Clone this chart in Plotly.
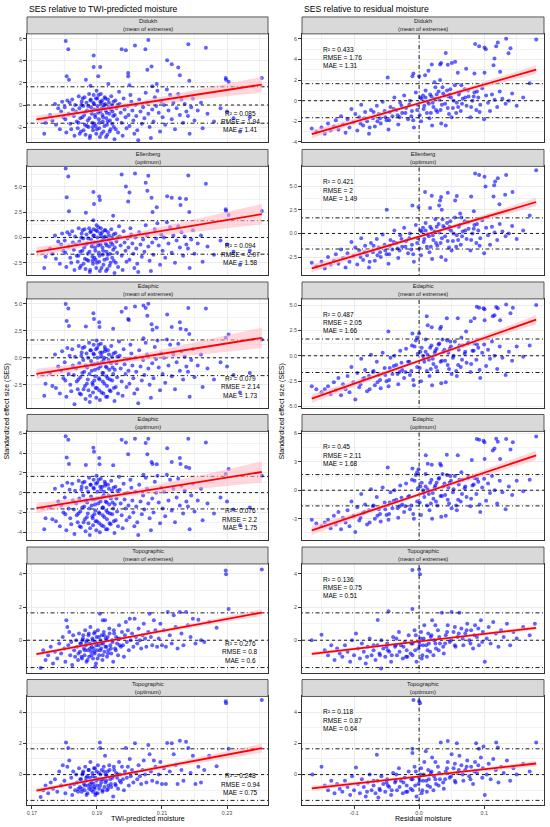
import numpy as np
import plotly.graph_objects as go

W, H = 550, 827

# ---------------- DATA ----------------
L1 = [(.1804,5.8),(.1812,5.06),(.1807,2.6),(.1814,2.3),(.1890,4.5),(.1890,3.45),(.1910,3.45),(.1904,2.6),(.1866,2.3),(.1976,5.06),(.1989,4.97),(.2017,5.4),(.2058,5.9),(.2049,5.06),(.2055,3.2),(.2068,3.5),(.1996,2.9),(.1996,2.6),(.2116,4.06),(.2130,3.7),(.2150,3.4),(.2155,2.7),(.2181,5.5),(.2184,2.2),(.2235,5.2),(.2296,2.45),(.2297,2.3),(.2305,2.1),(.2407,2.45),(.2084,1.9),(.2070,1.7),(.1935,1.9),(.1880,1.75),(.2000,1.8),
(.1742,-1.6),(.1738,-2.6),(.1756,-0.9),(.1763,-1.4),(.1771,0.1),(.1774,-1.8),(.1781,-0.3),(.1786,-2.2),(.1790,-0.6),(.1793,0.3),(.1797,-1.1),(.1801,-0.2),(.1803,-1.3),(.1806,-2.5),(.1809,0.4),(.1813,-0.8),(.1816,0.2),(.1818,-1.7),(.1821,-2.2),(.1824,0.5),(.1826,-0.4),(.1829,-1.0),(.1831,-2.8),(.1833,0.0),(.1836,-0.6),(.1838,-1.5),(.1841,-2.1),(.1844,0.8),(.1846,-0.3),(.1849,-1.2),(.1851,-2.4),(.1853,0.3),(.1856,0.6),(.1858,-0.1),(.1861,-0.9),(.1863,-1.8),(.1865,-2.7),(.1868,0.2),(.1870,-0.5),(.1872,-1.4),(.1874,-2.0),(.1876,1.0),(.1878,-3.0),(.1880,0.4),(.1882,-0.2),(.1884,-0.8),(.1886,-1.6),(.1888,-2.3),(.1890,0.9),(.1891,0.1),(.1893,-0.4),(.1895,-1.1),(.1896,-1.9),(.1898,-2.6),(.1899,1.3),(.1901,0.6),(.1902,-0.1),(.1904,-0.7),(.1906,-1.3),(.1907,-2.1),(.1909,-2.9),(.1910,0.3),(.1912,1.0),(.1913,0.2),(.1915,-0.3),(.1917,-0.9),(.1918,-1.5),(.1920,-2.4),(.1922,0.0),(.1924,0.7),(.1925,0.1),(.1927,-0.5),(.1929,-1.2),(.1931,-1.8),(.1932,-2.7),(.1934,0.5),(.1936,-0.2),(.1938,-0.8),(.1940,-1.4),(.1942,-2.2),(.1944,0.8),(.1946,0.0),(.1948,-0.6),(.1950,-1.0),(.1952,-2.0),(.1954,-3.1),(.1957,0.4),(.1960,-0.3),(.1962,-1.3),(.1965,-2.5),(.1968,1.2),(.1970,0.1),(.1973,-0.7),(.1976,-1.6),(.1979,-2.8),(.1982,0.6),(.1985,-0.4),(.1988,-1.1),(.1991,-2.1),(.1994,-0.1),(.1997,-0.9),(.2000,-1.9),(.2003,0.9),(.2006,0.3),(.2009,-0.5),(.2012,-1.4),(.2015,-2.6),(.2018,0.0),(.2021,-1.0),(.2024,-2.3),(.2027,-3.2),(.2030,0.5),(.2034,-0.6),(.2038,-1.7),(.2042,-0.2),(.2046,-1.2),(.2050,1.1),(.2054,0.2),(.2058,-0.8),(.2062,-2.0),(.2066,-3.0),(.2070,-0.4),(.2074,-1.5),(.2078,0.7),(.2082,-0.1),(.2086,1.3),(.2090,-0.7),(.2094,-2.4),(.2098,0.3),(.2102,-1.1),(.2106,0.0),(.2110,-1.8),(.2115,1.4),(.2120,-0.5),(.2125,0.9),(.2130,-1.3),(.2135,0.2),(.2140,-2.2),(.2145,-0.3),(.2150,1.0),(.2155,-0.9),(.2160,0.5),(.2165,-1.6),(.2170,0.1),(.2175,-0.6),(.2180,-1.0),(.2185,-2.6),(.2190,-0.2),(.2195,0.6),(.2200,-1.4),(.2210,-0.5),(.2220,0.2),(.2225,-2.1),(.2240,-0.8),(.2260,-1.5),(.2280,-0.3),(.2300,-0.6),(.2320,-1.2),(.2340,-2.4),(.2370,-1.1)]
L1_dense = [(.1843,-1.6),(.1847,-2.6),(.1852,0.0),(.1855,-1.1),(.1859,-2.3),(.1862,0.7),(.1866,-0.6),(.1869,-1.9),(.1873,-0.1),(.1877,-1.2),(.1879,-2.8),(.1881,0.5),(.1885,-0.5),(.1887,-2.0),(.1889,0.2),(.1892,-1.7),(.1894,-0.9),(.1897,0.6),(.1900,-2.2),(.1903,-0.4),(.1905,0.9),(.1908,-1.6),(.1911,-0.6),(.1914,-2.6),(.1916,0.4),(.1919,-1.1),(.1921,-0.2),(.1923,-1.9),(.1926,0.6),(.1928,-2.9),(.1930,-0.7),(.1933,-1.5),(.1937,0.2),(.1939,-2.4),(.1943,-0.4),(.1947,-1.7),(.1951,0.3),(.1955,-0.9),(.1958,-2.2),(.1963,0.0)]

L2 = [(.1804,6.8),(.1812,6.0),(.1807,3.97),(.1814,2.57),(.1889,4.47),(.1891,3.3),(.1907,4.03),(.1909,3.7),(.1866,2.43),(.1976,6.2),(.1989,5.03),(.2000,4.43),(.1996,3.53),(.2017,6.3),(.2058,6.07),(.2050,5.4),(.2055,4.6),(.2068,3.9),(.2071,2.5),(.2084,2.97),(.2116,4.07),(.2130,3.9),(.2155,3.87),(.2157,3.2),(.2174,3.8),(.2184,2.5),(.2181,6.1),(.2235,5.3),(.2296,2.77),(.2297,2.6),(.2305,2.2),(.2407,2.6),(.1950,2.13),(.1889,1.7),
(.1742,-1.9),(.1738,-3.0),(.1756,-1.1),(.1763,-1.6),(.1771,0.2),(.1774,-2.1),(.1781,-0.4),(.1786,-2.6),(.1790,-0.7),(.1793,0.4),(.1797,-1.3),(.1801,-0.3),(.1803,-1.5),(.1806,-2.9),(.1809,0.5),(.1813,-0.9),(.1816,0.3),(.1818,-2.0),(.1821,-2.5),(.1824,0.6),(.1826,-0.5),(.1829,-1.2),(.1831,-3.2),(.1833,0.1),(.1836,-0.7),(.1838,-1.8),(.1841,-2.4),(.1844,0.9),(.1846,-0.4),(.1849,-1.4),(.1851,-2.8),(.1853,0.4),(.1856,0.7),(.1858,-0.1),(.1861,-1.0),(.1863,-2.1),(.1865,-3.1),(.1868,0.3),(.1870,-0.6),(.1872,-1.6),(.1874,-2.3),(.1876,0.9),(.1878,-3.4),(.1880,0.5),(.1882,-0.2),(.1884,-0.9),(.1886,-1.9),(.1888,-2.6),(.1890,0.8),(.1891,0.2),(.1893,-0.5),(.1895,-1.3),(.1896,-2.2),(.1898,-3.0),(.1899,1.2),(.1901,0.6),(.1902,0.0),(.1904,-0.8),(.1906,-1.5),(.1907,-2.4),(.1909,-3.3),(.1910,0.4),(.1912,0.9),(.1913,0.2),(.1915,-0.3),(.1917,-1.0),(.1918,-1.7),(.1920,-2.7),(.1922,0.0),(.1924,0.7),(.1925,0.1),(.1927,-0.6),(.1929,-1.4),(.1931,-2.1),(.1932,-3.1),(.1934,0.5),(.1936,-0.2),(.1938,-0.9),(.1940,-1.6),(.1942,-2.5),(.1944,0.8),(.1946,0.0),(.1948,-0.7),(.1950,-1.2),(.1952,-2.3),(.1954,-3.5),(.1957,0.4),(.1960,-0.4),(.1962,-1.5),(.1965,-2.9),(.1968,1.1),(.1970,0.1),(.1973,-0.8),(.1976,-1.8),(.1979,-3.2),(.1982,0.6),(.1985,-0.5),(.1988,-1.3),(.1991,-2.4),(.1994,-0.1),(.1997,-1.0),(.2000,-2.2),(.2003,0.9),(.2006,0.3),(.2009,-0.6),(.2012,-1.6),(.2015,-3.0),(.2018,0.0),(.2021,-1.1),(.2024,-2.6),(.2027,-3.4),(.2030,0.5),(.2034,-0.7),(.2038,-1.9),(.2042,-0.2),(.2046,-1.4),(.2050,1.2),(.2054,0.2),(.2058,-0.9),(.2062,-2.3),(.2066,-3.3),(.2070,-0.5),(.2074,-1.7),(.2078,0.8),(.2082,-0.1),(.2086,1.4),(.2090,-0.8),(.2094,-2.7),(.2098,0.3),(.2102,-1.3),(.2106,0.0),(.2110,-2.0),(.2115,1.5),(.2120,-0.6),(.2125,1.0),(.2130,-1.5),(.2135,0.2),(.2140,-2.5),(.2145,-0.3),(.2150,1.1),(.2155,-1.0),(.2160,0.5),(.2165,-1.8),(.2170,0.1),(.2175,-0.7),(.2180,-1.1),(.2185,-3.0),(.2190,-0.2),(.2195,0.7),(.2200,-1.6),(.2210,-0.6),(.2220,0.2),(.2225,-2.4),(.2240,-0.9),(.2260,-1.7),(.2280,-0.3),(.2300,-0.7),(.2320,-1.4),(.2340,-2.7),(.2370,-1.3)]
L2_dense = [(.1843,-1.8),(.1847,-3.0),(.1852,0.0),(.1855,-1.3),(.1859,-2.6),(.1862,0.8),(.1866,-0.7),(.1869,-2.2),(.1873,-0.1),(.1877,-1.4),(.1879,-3.2),(.1881,0.6),(.1885,-0.6),(.1887,-2.3),(.1889,0.2),(.1892,-2.0),(.1894,-1.0),(.1897,0.7),(.1900,-2.5),(.1903,-0.5),(.1905,1.0),(.1908,-1.8),(.1911,-0.7),(.1914,-3.0),(.1916,0.5),(.1919,-1.3),(.1921,-0.2),(.1923,-2.2),(.1926,0.7),(.1928,-3.3),(.1930,-0.8),(.1933,-1.7),(.1937,0.2),(.1939,-2.8),(.1943,-0.5),(.1947,-2.0),(.1951,0.3),(.1955,-1.0),(.1958,-2.5),(.1963,0.0)]

L3 = [(.1804,4.97),(.1812,4.57),(.1807,3.4),(.1814,2.94),(.1889,4.12),(.1891,3.6),(.1907,3.3),(.1908,2.85),(.1866,2.9),(.1950,2.7),(.1976,4.27),(.1989,4.6),(.1996,3.6),(.1998,3.5),(.2017,4.76),(.2043,4.85),(.2058,5.0),(.2050,4.6),(.2055,3.9),(.2068,3.1),(.2071,2.6),(.2084,2.8),(.2116,4.0),(.2130,2.85),(.2155,3.3),(.2157,2.7),(.2174,2.6),(.2184,2.2),(.2181,4.6),(.2235,4.57),(.2296,1.85),(.2305,2.15),(.2407,1.7),(.2043,1.8),
(.1742,-2.4),(.1738,-3.5),(.1756,-1.4),(.1763,-2.6),(.1771,0.3),(.1774,-2.8),(.1781,-0.8),(.1786,-3.3),(.1790,-1.2),(.1793,0.6),(.1797,-1.9),(.1801,-0.4),(.1803,-2.1),(.1806,-3.6),(.1809,0.9),(.1813,-1.5),(.1816,0.2),(.1818,-2.5),(.1821,-3.1),(.1824,0.8),(.1826,-0.7),(.1829,-1.6),(.1831,-4.3),(.1833,0.1),(.1836,-1.0),(.1838,-2.2),(.1841,-2.9),(.1844,1.1),(.1846,-0.5),(.1849,-1.8),(.1851,-3.4),(.1853,0.5),(.1856,0.9),(.1858,-0.2),(.1861,-1.3),(.1863,-2.6),(.1865,-3.8),(.1868,0.4),(.1870,-0.9),(.1872,-2.0),(.1874,-3.0),(.1876,1.4),(.1878,-4.1),(.1880,0.7),(.1882,-0.3),(.1884,-1.2),(.1886,-2.3),(.1888,-3.2),(.1890,1.2),(.1891,0.3),(.1893,-0.6),(.1895,-1.7),(.1896,-2.8),(.1898,-3.7),(.1899,1.6),(.1901,0.9),(.1902,0.0),(.1904,-1.0),(.1906,-1.9),(.1907,-3.0),(.1909,-3.9),(.1910,0.5),(.1912,1.3),(.1913,0.2),(.1915,-0.4),(.1917,-1.4),(.1918,-2.2),(.1920,-3.3),(.1922,0.0),(.1924,1.0),(.1925,0.6),(.1927,-0.8),(.1929,-1.7),(.1931,-2.6),(.1932,-3.6),(.1934,0.7),(.1936,-0.2),(.1938,-1.1),(.1940,-2.0),(.1942,-3.1),(.1944,1.1),(.1946,0.1),(.1948,-0.9),(.1950,-1.5),(.1952,-2.8),(.1954,-4.0),(.1957,0.5),(.1960,-0.5),(.1962,-1.8),(.1965,-3.3),(.1968,1.5),(.1970,0.2),(.1973,-1.0),(.1976,-2.2),(.1979,-3.5),(.1982,0.8),(.1985,-0.6),(.1988,-1.5),(.1991,-2.7),(.1994,-0.1),(.1997,-1.2),(.2000,-2.4),(.2003,1.2),(.2006,0.4),(.2009,-0.7),(.2012,-1.9),(.2015,-3.3),(.2018,0.0),(.2021,-1.3),(.2024,-2.9),(.2027,-4.2),(.2030,0.7),(.2034,-0.8),(.2038,-2.1),(.2042,-0.2),(.2046,-1.6),(.2050,1.4),(.2054,0.3),(.2058,-1.0),(.2062,-2.5),(.2066,-3.7),(.2070,-0.5),(.2074,-1.9),(.2078,1.0),(.2082,-0.1),(.2086,1.6),(.2090,-0.9),(.2094,-3.0),(.2098,0.4),(.2102,-1.5),(.2106,0.0),(.2110,-2.3),(.2115,1.7),(.2120,-0.7),(.2125,1.2),(.2130,-1.7),(.2135,0.3),(.2140,-2.9),(.2145,-0.4),(.2150,1.3),(.2155,-1.2),(.2160,0.6),(.2165,-2.0),(.2170,0.1),(.2175,-0.8),(.2180,-1.3),(.2185,-3.6),(.2190,-0.2),(.2195,0.8),(.2200,-1.8),(.2210,-0.7),(.2220,0.3),(.2225,-2.7),(.2240,-1.0),(.2260,-2.0),(.2280,-0.4),(.2300,-0.8),(.2320,-1.6),(.2340,-3.2),(.2370,-1.4)]
L3_dense = [(.1843,-2.0),(.1847,-3.3),(.1852,0.2),(.1855,-1.4),(.1859,-2.9),(.1862,1.0),(.1866,-0.7),(.1869,-2.4),(.1873,0.0),(.1877,-1.5),(.1879,-3.5),(.1881,0.7),(.1885,-0.6),(.1887,-2.5),(.1889,0.4),(.1892,-2.1),(.1894,-1.1),(.1897,0.8),(.1900,-2.8),(.1903,-0.5),(.1905,1.2),(.1908,-2.0),(.1911,-0.8),(.1914,-3.2),(.1916,0.5),(.1919,-1.4),(.1921,-0.2),(.1923,-2.4),(.1926,0.8),(.1928,-3.6),(.1930,-0.9),(.1933,-1.9),(.1937,0.3),(.1939,-3.0),(.1943,-0.5),(.1947,-2.1),(.1951,0.4),(.1955,-1.1),(.1958,-2.7),(.1963,0.1)]

L4 = [(.1804,5.7),(.1812,5.36),(.1807,3.56),(.1814,2.9),(.1889,4.54),(.1891,4.15),(.1907,3.5),(.1908,2.87),(.1866,2.8),(.1950,2.77),(.1976,5.36),(.1989,5.07),(.1996,3.9),(.2017,5.46),(.2050,5.04),(.2058,5.46),(.2055,3.9),(.2068,3.1),(.2071,2.9),(.2084,2.87),(.2116,4.5),(.2130,3.1),(.2155,3.5),(.2157,2.9),(.2174,2.6),(.2184,2.5),(.2181,5.46),(.2235,5.07),(.2296,1.9),(.2305,2.4),(.2407,1.7),(.2043,1.8),
(.1742,-2.6),(.1738,-3.7),(.1756,-1.5),(.1763,-2.7),(.1771,0.4),(.1774,-2.9),(.1781,-0.9),(.1786,-3.4),(.1790,-1.3),(.1793,0.7),(.1797,-2.0),(.1801,-0.5),(.1803,-2.2),(.1806,-3.8),(.1809,1.0),(.1813,-1.6),(.1816,0.3),(.1818,-2.6),(.1821,-3.2),(.1824,0.9),(.1826,-0.8),(.1829,-1.7),(.1831,-4.2),(.1833,0.2),(.1836,-1.1),(.1838,-2.3),(.1841,-3.0),(.1844,1.2),(.1846,-0.6),(.1849,-1.9),(.1851,-3.5),(.1853,0.6),(.1856,1.0),(.1858,-0.3),(.1861,-1.4),(.1863,-2.7),(.1865,-3.9),(.1868,0.5),(.1870,-1.0),(.1872,-2.1),(.1874,-3.1),(.1876,1.5),(.1878,-4.3),(.1880,0.8),(.1882,-0.4),(.1884,-1.3),(.1886,-2.4),(.1888,-3.3),(.1890,1.3),(.1891,0.4),(.1893,-0.7),(.1895,-1.8),(.1896,-2.9),(.1898,-3.8),(.1899,1.7),(.1901,1.0),(.1902,0.1),(.1904,-1.1),(.1906,-2.0),(.1907,-3.1),(.1909,-4.0),(.1910,0.6),(.1912,1.4),(.1913,0.3),(.1915,-0.5),(.1917,-1.5),(.1918,-2.3),(.1920,-3.4),(.1922,0.1),(.1924,1.1),(.1925,0.7),(.1927,-0.9),(.1929,-1.8),(.1931,-2.7),(.1932,-3.7),(.1934,0.8),(.1936,-0.3),(.1938,-1.2),(.1940,-2.1),(.1942,-3.2),(.1944,1.2),(.1946,0.2),(.1948,-1.0),(.1950,-1.6),(.1952,-2.9),(.1954,-4.1),(.1957,0.6),(.1960,-0.6),(.1962,-1.9),(.1965,-3.4),(.1968,1.6),(.1970,0.3),(.1973,-1.1),(.1976,-2.3),(.1979,-3.6),(.1982,0.9),(.1985,-0.7),(.1988,-1.6),(.1991,-2.8),(.1994,0.0),(.1997,-1.3),(.2000,-2.5),(.2003,1.3),(.2006,0.5),(.2009,-0.8),(.2012,-2.0),(.2015,-3.4),(.2018,0.1),(.2021,-1.4),(.2024,-3.0),(.2027,-4.3),(.2030,0.8),(.2034,-0.9),(.2038,-2.2),(.2042,-0.3),(.2046,-1.7),(.2050,1.5),(.2054,0.4),(.2058,-1.1),(.2062,-2.6),(.2066,-3.8),(.2070,-0.6),(.2074,-2.0),(.2078,1.1),(.2082,0.0),(.2086,1.7),(.2090,-1.0),(.2094,-3.1),(.2098,0.5),(.2102,-1.6),(.2106,0.1),(.2110,-2.4),(.2115,1.8),(.2120,-0.8),(.2125,1.3),(.2130,-1.8),(.2135,0.4),(.2140,-3.0),(.2145,-0.5),(.2150,1.4),(.2155,-1.3),(.2160,0.7),(.2165,-2.1),(.2170,0.2),(.2175,-0.9),(.2180,-1.4),(.2185,-3.7),(.2190,-0.3),(.2195,0.9),(.2200,-1.9),(.2210,-0.8),(.2220,0.4),(.2225,-2.8),(.2240,-1.1),(.2260,-2.1),(.2280,-0.5),(.2300,-0.9),(.2320,-1.7),(.2340,-3.3),(.2370,-1.5)]
L4_dense = [(.1843,-2.1),(.1847,-3.4),(.1852,0.3),(.1855,-1.5),(.1859,-3.0),(.1862,1.1),(.1866,-0.8),(.1869,-2.5),(.1873,0.1),(.1877,-1.6),(.1879,-3.6),(.1881,0.8),(.1885,-0.7),(.1887,-2.6),(.1889,0.5),(.1892,-2.2),(.1894,-1.2),(.1897,0.9),(.1900,-2.9),(.1903,-0.6),(.1905,1.3),(.1908,-2.1),(.1911,-0.9),(.1914,-3.3),(.1916,0.6),(.1919,-1.5),(.1921,-0.3),(.1923,-2.5),(.1926,0.9),(.1928,-3.7),(.1930,-1.0),(.1933,-2.0),(.1937,0.4),(.1939,-3.1),(.1943,-0.6),(.1947,-2.2),(.1951,0.5),(.1955,-1.2),(.1958,-2.8),(.1963,0.2)]

L5 = [(.1727,-1.67),(.1735,-0.6),(.1742,-1.2),(.1750,-0.9),(.1758,-0.4),(.1765,-1.4),(.1771,-0.7),(.1778,-1.1),(.1784,-0.2),(.1790,-0.8),(.1795,0.2),(.1800,-0.5),(.1803,-1.3),(.1806,1.2),(.1809,0.8),(.1812,-0.3),(.1815,0.5),(.1818,-0.9),(.1821,-0.1),(.1824,-1.5),(.1827,0.3),(.1830,-0.6),(.1833,-1.0),(.1836,0.0),(.1839,-0.4),(.1842,-1.2),(.1845,0.4),(.1848,-0.7),(.1851,-0.2),(.1854,-1.1),(.1857,0.1),(.1860,-0.5),(.1862,-0.9),(.1864,0.6),(.1866,-0.3),(.1868,-1.3),(.1870,0.0),(.1872,-0.6),(.1874,0.3),(.1876,-1.0),(.1878,-0.2),(.1880,0.8),(.1882,-0.7),(.1884,-0.4),(.1886,0.1),(.1888,-1.1),(.1890,-0.5),(.1891,0.4),(.1893,-0.8),(.1895,-0.1),(.1897,-1.4),(.1899,0.2),(.1901,-0.6),(.1903,0.6),(.1905,-0.3),(.1907,-0.9),(.1909,1.6),(.1911,0.0),(.1913,-0.5),(.1915,0.3),(.1917,-1.2),(.1919,-0.2),(.1921,0.5),(.1923,-0.7),(.1925,1.2),(.1927,0.1),(.1929,-0.4),(.1931,-1.0),(.1933,0.2),(.1935,-0.6),(.1938,0.7),(.1941,-0.3),(.1944,-0.8),(.1947,0.0),(.1950,-1.3),(.1953,0.4),(.1956,-0.5),(.1959,0.2),(.1962,-0.2),(.1965,-0.9),(.1968,0.9),(.1971,0.1),(.1974,-0.4),(.1977,0.5),(.1980,-0.3),(.1983,-1.0),(.1986,0.3),(.1989,1.1),(.1992,-0.1),(.1995,0.6),(.1998,-0.6),(.2001,1.3),(.2004,0.0),(.2008,0.4),(.2012,-0.4),(.2016,1.3),(.2020,0.2),(.2024,-0.2),(.2028,0.7),(.2032,0.0),(.2036,-0.5),(.2040,0.3),(.2044,1.0),(.2048,0.1),(.2052,-0.4),(.2058,0.5),(.2062,1.6),(.2066,0.2),(.2070,-0.3),(.2075,1.2),(.2080,0.6),(.2085,-0.4),(.2090,0.1),(.2095,1.0),(.2100,-0.3),(.2106,0.6),(.2112,-0.4),(.2118,1.7),(.2124,0.3),(.2130,-0.2),(.2136,1.5),(.2142,0.8),(.2148,-0.5),(.2155,1.7),(.2160,0.4),(.2166,-0.3),(.2174,1.7),(.2180,0.9),(.2188,0.2),(.2195,1.3),(.2203,-0.2),(.2212,1.24),(.2220,0.0),(.2230,-0.1),(.2245,1.1),(.2268,0.75),(.2296,4.2),(.2297,3.98),(.2305,1.88),(.2407,4.27),(.1855,0.0),(.1895,-1.6),(.1918,1.2)]
L5_dense = [(.1843,-0.8),(.1849,-0.2),(.1853,-1.0),(.1858,0.3),(.1863,-0.6),(.1867,-0.1),(.1871,-1.2),(.1875,0.4),(.1879,-0.5),(.1883,-0.9),(.1887,0.0),(.1892,-0.7),(.1894,0.5),(.1898,-0.3),(.1902,-1.1),(.1906,0.2),(.1910,-0.6),(.1914,-0.2),(.1918,-0.9),(.1922,0.3),(.1926,-0.4),(.1930,0.0),(.1934,-0.8),(.1939,0.4),(.1943,-0.5),(.1948,-0.1),(.1952,0.6),(.1958,-0.6),(.1964,0.1),(.1970,-0.3)]

L6 = [(.1727,-1.44),(.1735,-1.0),(.1742,-0.7),(.1750,-1.2),(.1758,-0.5),(.1765,-0.9),(.1771,-0.3),(.1778,-1.1),(.1784,0.2),(.1790,-0.7),(.1795,0.6),(.1800,-0.4),(.1803,-1.2),(.1805,2.06),(.1812,1.7),(.1809,0.5),(.1815,0.9),(.1818,-0.8),(.1821,-0.2),(.1824,-1.3),(.1827,0.2),(.1830,-0.6),(.1833,-1.0),(.1836,0.0),(.1839,-0.5),(.1842,-1.1),(.1845,0.4),(.1848,-0.8),(.1851,-0.3),(.1854,-0.9),(.1857,0.1),(.1860,-0.6),(.1862,-1.0),(.1864,0.5),(.1866,-0.4),(.1868,-1.3),(.1870,-0.1),(.1872,-0.7),(.1874,0.3),(.1876,-0.9),(.1878,-0.2),(.1880,0.8),(.1882,-0.8),(.1884,-0.5),(.1886,0.1),(.1888,-1.1),(.1890,-0.6),(.1891,0.4),(.1893,-0.9),(.1895,-0.2),(.1897,-1.2),(.1899,0.2),(.1901,-0.7),(.1903,0.6),(.1905,-0.3),(.1907,-0.9),(.1909,2.06),(.1910,1.7),(.1911,0.0),(.1913,-0.5),(.1915,0.3),(.1917,-1.1),(.1919,-0.3),(.1921,0.5),(.1923,-0.8),(.1925,1.2),(.1927,0.0),(.1929,-0.4),(.1931,-1.0),(.1933,0.2),(.1935,-0.7),(.1938,0.6),(.1941,-0.3),(.1944,-0.8),(.1947,-0.1),(.1950,-1.4),(.1953,0.3),(.1956,-0.6),(.1959,0.1),(.1962,-0.2),(.1965,-0.9),(.1968,0.8),(.1971,0.0),(.1974,-0.5),(.1977,0.5),(.1980,-0.3),(.1983,-1.0),(.1986,0.2),(.1989,1.7),(.1992,-0.2),(.1995,0.5),(.1998,-0.7),(.2001,1.0),(.2004,-0.1),(.2008,0.3),(.2012,-0.5),(.2017,2.0),(.2020,0.1),(.2024,-0.3),(.2028,0.6),(.2032,-0.1),(.2036,-0.6),(.2040,0.3),(.2044,0.9),(.2048,0.0),(.2052,-0.5),(.2058,1.9),(.2062,1.3),(.2066,0.2),(.2070,-0.4),(.2075,0.9),(.2080,0.5),(.2085,-0.5),(.2090,0.0),(.2095,0.8),(.2100,-0.6),(.2106,0.4),(.2112,-0.6),(.2116,2.03),(.2124,0.2),(.2130,2.0),(.2136,1.3),(.2142,0.6),(.2148,-0.6),(.2155,2.16),(.2160,0.3),(.2166,-0.4),(.2174,2.1),(.2181,1.7),(.2188,0.1),(.2195,1.2),(.2203,-0.6),(.2212,0.5),(.2220,-0.5),(.2230,0.3),(.2245,1.2),(.2268,0.54),(.2296,4.7),(.2297,4.56),(.2305,1.65),(.2407,4.77),(.1855,0.0),(.1895,-1.3)]
L6_dense = [(.1843,-0.9),(.1849,-0.3),(.1853,-1.1),(.1858,0.2),(.1863,-0.7),(.1867,-0.2),(.1871,-1.2),(.1875,0.3),(.1879,-0.6),(.1883,-1.0),(.1887,-0.1),(.1892,-0.8),(.1894,0.4),(.1898,-0.4),(.1902,-1.2),(.1906,0.1),(.1910,-0.7),(.1914,-0.3),(.1918,-1.0),(.1922,0.2),(.1926,-0.5),(.1930,-0.1),(.1934,-0.9),(.1939,0.3),(.1943,-0.6),(.1948,-0.2),(.1952,0.5),(.1958,-0.7),(.1964,0.0),(.1970,-0.4)]

R1 = [(.0862,5.5),(.0923,5.27),(.1005,5.17),(.1026,5.0),(.1185,5.27),(.1210,5.65),(.1338,6.0),(.1405,5.08),(.1374,4.6),(.1800,5.94),(.1159,4.1),(.1144,3.43),(.1246,2.8),(.1005,2.7),(.0851,2.63),(.0723,3.1),(.0595,2.7),(.0554,3.78),(.0503,3.65),(.0441,3.49),(.0338,3.65),(.0323,3.52),(.0195,3.52),(.0410,4.63),(.0144,2.9),(.0092,2.48),(-.0087,2.63),(-.0103,2.38),(.0000,2.38),(-.0482,2.25),(.0323,2.0),(.0236,1.8),
(-.165,-2.7),(-.158,-3.0),(-.150,-2.6),(-.145,-3.2),(-.140,-2.2),(-.136,-2.9),(-.131,-2.5),(-.128,-1.9),(-.124,-2.8),(-.120,-1.5),(-.117,-2.3),(-.113,-3.1),(-.110,-1.8),(-.107,-2.6),(-.104,-0.8),(-.101,-2.1),(-.098,-1.3),(-.095,-2.9),(-.092,-1.6),(-.089,-0.4),(-.086,-2.4),(-.083,-1.1),(-.080,-2.0),(-.077,-3.2),(-.074,-0.9),(-.071,-1.7),(-.068,-2.5),(-.065,-0.5),(-.062,-1.3),(-.059,-2.2),(-.056,-0.1),(-.053,-1.0),(-.050,-1.9),(-.047,-2.8),(-.044,-0.6),(-.041,-1.5),(-.038,0.3),(-.035,-0.9),(-.032,-2.3),(-.029,-0.2),(-.026,-1.2),(-.023,0.5),(-.020,-0.7),(-.017,-1.8),(-.014,0.0),(-.011,-1.0),(-.008,-2.6),(-.005,0.8),(-.002,-0.4),(.001,-1.4),(.004,0.2),(.007,-0.8),(.010,1.0),(.013,-0.1),(.016,-1.7),(.019,0.4),(.022,-0.6),(.025,1.3),(.028,-1.1),(.031,0.1),(.034,-2.2),(.037,0.7),(.040,-0.3),(.043,1.0),(.046,-1.3),(.049,0.3),(.052,-0.7),(.055,1.5),(.058,-0.2),(.061,0.6),(.064,-1.0),(.067,0.2),(.070,1.1),(.073,-0.5),(.076,0.4),(.079,-1.6),(.082,0.0),(.085,0.8),(.088,-0.9),(.091,0.3),(.094,-0.4),(.097,1.2),(.100,-1.8),(.103,0.5),(.106,-0.2),(.109,-1.0),(.112,0.6),(.116,0.1),(.120,-0.6),(.124,0.9),(.128,0.2),(.133,-0.3),(.138,0.0),(.143,0.7),(.150,-0.5),(.160,0.3),(.170,1.7),(-.012,-1.5),(.003,-2.0),(.006,0.5),(.018,-1.2),(.027,0.6),(.033,-0.9),(.045,0.4),(.050,-1.6),(.060,-0.6),(-.030,-1.6),(-.045,-1.1),(-.060,-1.7),(.015,-0.3),(.020,-2.4),(.041,-2.4)]
R1_dense = [(-.052,-1.6),(-.046,-1.9),(-.039,-0.8),(-.033,-1.4),(-.027,-0.5),(-.021,-1.2),(-.015,-0.4),(-.009,-1.9),(-.003,-0.9),(.002,0.3),(.008,-0.5),(.012,-1.2),(.017,0.6),(.021,-0.2),(.026,-0.9),(.030,0.9),(.035,-0.4),(.039,0.5),(.044,-0.7),(.048,1.1),(.053,0.0),(.057,-1.2),(.062,0.8),(.066,-0.3),(.071,0.3),(.075,1.0),(.080,-0.6),(.084,0.4),(.089,0.9),(.093,-1.1),(-.064,-2.0),(-.070,-1.1),(-.076,-2.6),(-.084,-1.7),(-.090,-2.2),(.010,0.3),(.024,0.2),(.036,1.3),(.047,0.6),(.065,1.5)]

R2 = [(.0862,6.35),(.0923,6.2),(.1005,6.0),(.1210,5.85),(.1338,6.2),(.1800,6.7),(.1169,5.5),(.1154,5.1),(.1021,4.96),(.1144,3.9),(.1323,4.1),(.1436,4.4),(.0800,3.9),(.1236,3.1),(.0841,2.34),(.0631,2.1),(.0580,3.96),(.0554,3.5),(.0441,4.3),(.0338,3.85),(.0323,3.5),(.0195,4.0),(.0092,4.4),(.0169,2.7),(-.0103,2.97),(-.0010,2.8),(-.0497,2.5),(.0308,2.97),(.0349,2.5),
(-.165,-3.1),(-.158,-3.5),(-.150,-3.0),(-.145,-3.7),(-.140,-2.5),(-.136,-3.3),(-.131,-2.9),(-.128,-2.2),(-.124,-3.2),(-.120,-1.7),(-.117,-2.6),(-.113,-3.6),(-.110,-2.1),(-.107,-3.0),(-.104,-0.9),(-.101,-2.4),(-.098,-1.5),(-.095,-3.3),(-.092,-1.8),(-.089,-0.5),(-.086,-2.8),(-.083,-1.3),(-.080,-2.3),(-.077,-3.6),(-.074,-1.0),(-.071,-2.0),(-.068,-2.9),(-.065,-0.6),(-.062,-1.5),(-.059,-2.5),(-.056,-0.1),(-.053,-1.2),(-.050,-2.2),(-.047,-3.2),(-.044,-0.7),(-.041,-1.7),(-.038,0.3),(-.035,-1.0),(-.032,-2.6),(-.029,-0.2),(-.026,-1.4),(-.023,0.6),(-.020,-0.8),(-.017,-2.1),(-.014,0.0),(-.011,-1.2),(-.008,-3.0),(-.005,0.9),(-.002,-0.5),(.001,-1.6),(.004,0.2),(.007,-0.9),(.010,1.1),(.013,-0.1),(.016,-2.0),(.019,0.5),(.022,-0.7),(.025,1.5),(.028,-1.3),(.031,0.1),(.034,-2.5),(.037,0.8),(.040,-0.3),(.043,1.1),(.046,-1.5),(.049,0.3),(.052,-0.8),(.055,1.7),(.058,-0.2),(.061,0.7),(.064,-1.2),(.067,0.2),(.070,1.3),(.073,-0.6),(.076,0.5),(.079,-1.8),(.082,0.0),(.085,0.9),(.088,-1.0),(.091,0.3),(.094,-0.5),(.097,1.4),(.100,-2.1),(.103,0.6),(.106,-0.2),(.109,-1.2),(.112,0.7),(.116,0.1),(.120,-0.7),(.124,1.0),(.128,0.2),(.133,-0.3),(.138,0.0),(.143,0.8),(.150,-0.6),(.160,0.3),(.170,1.9),(-.012,-1.7),(.003,-2.3),(.006,0.6),(.018,-1.4),(.027,0.7),(.033,-1.0),(.045,0.5),(.050,-1.8),(.060,-0.7),(-.030,-1.8),(-.045,-1.3),(-.060,-2.0),(.015,-0.3),(.020,-2.7),(.041,-2.8)]
R2_dense = [(-.052,-1.8),(-.046,-2.2),(-.039,-0.9),(-.033,-1.6),(-.027,-0.6),(-.021,-1.4),(-.015,-0.5),(-.009,-2.2),(-.003,-1.0),(.002,0.3),(.008,-0.6),(.012,-1.4),(.017,0.7),(.021,-0.2),(.026,-1.0),(.030,1.0),(.035,-0.5),(.039,0.6),(.044,-0.8),(.048,1.3),(.053,0.0),(.057,-1.4),(.062,0.9),(.066,-0.3),(.071,0.3),(.075,1.2),(.080,-0.7),(.084,0.5),(.089,1.0),(.093,-1.3),(-.064,-2.3),(-.070,-1.3),(-.076,-3.0),(-.084,-2.0),(-.090,-2.5),(.010,0.3),(.024,0.2),(.036,1.5),(.047,0.7),(.065,1.7)]

R3 = [(.0887,4.84),(.0923,4.74),(.0990,4.68),(.1005,4.58),(.1185,4.8),(.1210,4.68),(.1338,5.06),(.1441,4.74),(.1800,5.0),(.1159,4.0),(.1133,3.9),(.1405,4.2),(.1246,3.5),(.1007,3.5),(.0851,3.7),(.0795,3.4),(.0723,2.4),(.0595,3.7),(.0426,3.7),(.0323,2.66),(.0338,2.85),(.0195,2.8),(.0118,3.9),(.0133,3.0),(-.0472,2.4),(-.0103,2.2),(.0000,2.2),
(-.165,-3.0),(-.158,-3.3),(-.150,-3.6),(-.145,-3.3),(-.140,-3.0),(-.136,-3.8),(-.131,-2.6),(-.128,-3.4),(-.124,-2.2),(-.120,-3.9),(-.117,-2.8),(-.113,-3.3),(-.110,-2.0),(-.107,-3.6),(-.104,-1.1),(-.101,-2.6),(-.098,-4.3),(-.095,-1.7),(-.092,-3.1),(-.089,-0.3),(-.086,-2.3),(-.083,-1.4),(-.080,-3.5),(-.077,-2.0),(-.074,0.1),(-.071,-1.6),(-.068,-2.9),(-.065,-0.6),(-.062,-1.9),(-.059,-3.2),(-.056,0.3),(-.053,-1.2),(-.050,-2.5),(-.047,-3.0),(-.044,-0.2),(-.041,-1.8),(-.038,0.0),(-.035,-0.9),(-.032,-2.8),(-.029,0.5),(-.026,-1.4),(-.023,-2.2),(-.020,0.7),(-.017,-0.6),(-.014,-1.9),(-.011,1.0),(-.008,-2.9),(-.005,1.5),(-.002,0.2),(.001,-1.2),(.004,0.8),(.007,-0.3),(.010,1.6),(.013,0.1),(.016,-2.0),(.019,1.0),(.022,-0.8),(.025,0.5),(.028,-1.5),(.031,1.2),(.034,-2.7),(.037,0.4),(.040,-0.5),(.043,1.5),(.046,-1.3),(.049,0.9),(.052,-0.2),(.055,1.4),(.058,-2.0),(.061,0.6),(.064,-1.1),(.067,1.0),(.070,0.2),(.073,-0.7),(.076,1.3),(.079,-1.6),(.082,0.5),(.085,1.2),(.088,-0.4),(.091,0.8),(.094,-2.2),(.097,0.3),(.100,1.1),(.103,-1.0),(.106,0.6),(.109,-0.3),(.112,1.4),(.116,0.0),(.120,-1.3),(.124,0.9),(.128,-0.2),(.133,-1.9),(.138,0.4),(.143,-0.5),(.150,0.9),(.160,-0.1),(.170,1.0),(-.012,-1.5),(.003,-2.5),(.006,0.0),(.018,-1.3),(.027,0.7),(.033,-0.6),(.045,0.3),(.050,-1.8),(.060,-0.9),(-.030,-1.6),(-.045,-1.2),(-.060,-2.4),(.015,-0.4),(.020,-2.9),(.041,-2.6),(-.003,1.8),(-.007,0.9)]
R3_dense = [(-.052,-1.9),(-.046,-2.4),(-.039,-1.0),(-.033,-1.8),(-.027,-0.7),(-.021,-1.6),(-.015,-0.6),(-.009,-2.4),(-.003,-1.1),(.002,0.4),(.008,-0.6),(.012,-1.5),(.017,0.8),(.021,-0.3),(.026,-1.1),(.030,1.1),(.035,-0.5),(.039,0.6),(.044,-0.9),(.048,1.4),(.053,0.0),(.057,-1.5),(.062,1.0),(.066,-0.4),(.071,0.4),(.075,1.2),(.080,-0.8),(.084,0.5),(.089,1.1),(.093,-1.4),(-.064,-2.6),(-.070,-1.5),(-.076,-3.3),(-.084,-2.2),(-.090,-2.8),(.010,0.4),(.024,0.3),(.036,1.6),(.047,0.7),(.065,1.8)]

R4 = [(.0887,5.39),(.0923,5.33),(.0990,5.22),(.1005,5.05),(.1185,5.43),(.1210,5.1),(.1338,5.39),(.1441,5.05),(.1800,5.66),(.1159,4.4),(.1133,4.2),(.1405,4.3),(.1246,3.3),(.1007,3.3),(.0810,3.2),(.0595,3.7),(.0426,3.73),(.0323,2.8),(.0338,2.6),(.0195,2.7),(.0103,3.7),(.0133,2.8),(-.0482,2.4),(-.0103,2.3),(-.0010,2.2),
(-.165,-3.1),(-.158,-3.5),(-.150,-3.8),(-.145,-3.4),(-.140,-3.1),(-.136,-4.0),(-.131,-2.7),(-.128,-3.6),(-.124,-2.3),(-.120,-4.1),(-.117,-2.9),(-.113,-3.4),(-.110,-2.1),(-.107,-3.8),(-.104,-1.2),(-.101,-2.7),(-.098,-4.4),(-.095,-1.8),(-.092,-3.2),(-.089,-0.4),(-.086,-2.4),(-.083,-1.5),(-.080,-3.6),(-.077,-2.1),(-.074,0.1),(-.071,-1.7),(-.068,-3.0),(-.065,-0.7),(-.062,-2.0),(-.059,-3.3),(-.056,0.3),(-.053,-1.3),(-.050,-2.6),(-.047,-3.1),(-.044,-0.2),(-.041,-1.9),(-.038,0.0),(-.035,-1.0),(-.032,-2.9),(-.029,0.5),(-.026,-1.5),(-.023,-2.3),(-.020,0.7),(-.017,-0.7),(-.014,-2.0),(-.011,1.1),(-.008,-3.0),(-.005,1.6),(-.002,0.2),(.001,-1.3),(.004,0.8),(.007,-0.3),(.010,1.7),(.013,0.1),(.016,-2.1),(.019,1.1),(.022,-0.9),(.025,0.5),(.028,-1.6),(.031,1.3),(.034,-2.8),(.037,0.4),(.040,-0.5),(.043,1.6),(.046,-1.4),(.049,1.0),(.052,-0.2),(.055,1.5),(.058,-2.1),(.061,0.6),(.064,-1.2),(.067,1.1),(.070,0.2),(.073,-0.7),(.076,1.4),(.079,-1.7),(.082,0.5),(.085,1.3),(.088,-0.4),(.091,0.9),(.094,-2.3),(.097,0.3),(.100,1.2),(.103,-1.1),(.106,0.7),(.109,-0.3),(.112,1.5),(.116,0.0),(.120,-1.4),(.124,1.0),(.128,-0.2),(.133,-2.0),(.138,0.4),(.143,-0.5),(.150,1.0),(.160,-0.1),(.170,1.1),(-.012,-1.6),(.003,-2.6),(.006,0.0),(.018,-1.4),(.027,0.8),(.033,-0.6),(.045,0.3),(.050,-1.9),(.060,-1.0),(-.030,-1.7),(-.045,-1.3),(-.060,-2.5),(.015,-0.4),(.020,-3.0),(.041,-2.7),(-.003,1.9),(-.007,1.0)]
R4_dense = [(-.052,-2.0),(-.046,-2.5),(-.039,-1.1),(-.033,-1.9),(-.027,-0.8),(-.021,-1.7),(-.015,-0.6),(-.009,-2.5),(-.003,-1.2),(.002,0.4),(.008,-0.7),(.012,-1.6),(.017,0.8),(.021,-0.3),(.026,-1.2),(.030,1.2),(.035,-0.6),(.039,0.7),(.044,-1.0),(.048,1.5),(.053,0.1),(.057,-1.6),(.062,1.1),(.066,-0.4),(.071,0.4),(.075,1.3),(.080,-0.9),(.084,0.6),(.089,1.2),(.093,-1.5),(-.064,-2.7),(-.070,-1.6),(-.076,-3.4),(-.084,-2.3),(-.090,-2.9),(.010,0.4),(.024,0.3),(.036,1.7),(.047,0.8),(.065,1.9)]

R5 = [(-.165,0.0),(-.150,0.33),(-.145,-0.6),(-.140,-0.9),(-.135,-0.3),(-.130,-1.2),(-.126,-0.5),(-.122,-0.8),(-.118,-1.0),(-.114,-0.3),(-.110,-0.7),(-.106,-1.3),(-.103,0.0),(-.100,-0.9),(-.097,0.4),(-.094,-0.5),(-.091,-1.1),(-.088,-0.2),(-.085,-0.7),(-.082,-1.4),(-.079,-0.4),(-.076,0.1),(-.073,-0.9),(-.070,-0.6),(-.067,-1.2),(-.0636,1.22),(-.064,-0.3),(-.061,-0.8),(-.0585,-1.7),(-.058,0.0),(-.055,-0.5),(-.052,-1.0),(-.049,-0.2),(-.047,1.75),(-.046,-0.7),(-.043,-1.3),(-.040,0.2),(-.037,-0.4),(-.034,-0.9),(-.031,0.5),(-.028,-0.3),(-.025,-1.1),(-.022,-0.1),(-.019,-0.6),(-.016,0.3),(-.013,-0.8),(-.0103,1.88),(-.0103,4.24),(0.0,4.27),(.0015,3.98),(-.010,-0.2),(-.007,0.6),(-.004,-1.3),(-.001,-0.5),(.002,0.1),(.005,-0.9),(.008,0.9),(.011,-0.3),(.014,0.4),(.017,-0.7),(.020,1.2),(.023,0.0),(.026,-0.5),(.029,0.6),(.032,-0.2),(.035,1.65),(.038,-0.8),(.041,0.3),(.044,0.9),(.047,-0.1),(.050,1.7),(.053,0.5),(.056,-0.4),(.059,0.2),(.062,1.65),(.065,0.7),(.068,-0.3),(.071,0.4),(.074,1.0),(.077,0.0),(.080,0.6),(.083,-0.5),(.086,0.9),(.089,0.2),(.092,-0.3),(.095,1.2),(.098,0.5),(.101,-1.3),(.104,0.1),(.107,0.8),(.110,-0.2),(.114,1.1),(.118,0.4),(.122,-0.4),(.126,0.6),(.130,0.2),(.135,1.0),(.140,-0.3),(.145,0.5),(.150,0.1),(.160,0.8),(.170,0.3),(.178,1.0),(-.020,-1.0),(-.005,0.3),(.006,-0.3),(.012,-1.0),(.018,0.2),(.025,0.9),(.030,-0.6),(.040,-0.2),(.055,0.8),(-.035,0.1),(-.050,-0.4),(-.010,-0.9),(.000,-0.1),(.003,0.5),(.015,-0.2)]
R5_dense = [(-.048,-0.6),(-.042,-0.9),(-.036,-0.3),(-.030,-0.7),(-.024,-0.4),(-.018,-1.0),(-.012,-0.2),(-.006,-0.6),(.001,-0.3),(.007,0.1),(.013,-0.6),(.019,0.3),(.025,-0.2),(.031,0.2),(.037,-0.4),(.043,0.5),(.049,0.0),(.055,-0.3),(.061,0.4),(.067,0.1),(.073,0.6),(.079,-0.2),(.085,0.3),(.091,0.7),(.097,-0.1),(-.060,-0.9),(-.070,-0.3),(-.080,-1.0),(.004,-1.1),(.022,-0.9)]

R6 = [(-.164,0.0),(-.150,0.5),(-.145,-0.7),(-.140,-1.0),(-.135,-0.4),(-.130,-1.2),(-.126,-0.6),(-.122,-0.9),(-.118,-1.1),(-.114,-0.4),(-.110,-0.8),(-.106,-1.3),(-.103,-0.1),(-.100,-1.0),(-.097,0.46),(-.094,-0.6),(-.091,-1.2),(-.088,-0.3),(-.085,-0.8),(-.082,-1.4),(-.079,-0.5),(-.076,0.0),(-.073,-1.0),(-.070,-0.7),(-.067,-1.2),(-.065,1.27),(-.064,-0.4),(-.0626,-1.46),(-.061,-0.9),(-.058,-0.1),(-.055,-0.6),(-.052,-1.1),(-.049,-0.3),(-.046,-0.8),(-.043,-1.3),(-.040,0.1),(-.037,-0.5),(-.034,-1.0),(-.031,0.4),(-.028,-0.4),(-.025,-1.2),(-.022,-0.2),(-.019,-0.7),(-.016,0.2),(-.013,-0.9),(-.0103,1.65),(-.0103,1.38),(-.0087,4.77),(0.0,4.7),(.0015,4.56),(-.010,-0.3),(-.007,0.5),(-.004,-1.4),(-.001,-0.6),(.002,0.0),(.005,-1.0),(.0103,1.5),(.008,0.8),(.011,-0.4),(.014,0.3),(.017,-0.8),(.020,1.1),(.023,-0.1),(.026,-0.6),(.029,0.5),(.032,-0.3),(.0333,2.06),(.038,-0.9),(.041,0.2),(.0441,2.15),(.044,0.8),(.047,-0.2),(.050,1.3),(.053,0.4),(.056,-0.5),(.058,2.0),(.059,0.1),(.062,1.2),(.065,0.6),(.068,-0.4),(.071,0.3),(.074,0.9),(.077,-0.1),(.080,0.5),(.083,-0.6),(.0877,2.0),(.086,0.8),(.089,0.1),(.092,1.65),(.095,1.1),(.099,1.8),(.098,0.4),(.101,-1.3),(.104,0.0),(.107,0.7),(.110,-0.3),(.114,1.0),(.1185,2.06),(.121,1.73),(.118,0.3),(.122,-0.5),(.126,0.5),(.130,0.1),(.135,0.9),(.140,-0.4),(.145,0.4),(.150,0.0),(.160,0.7),(.170,0.2),(.180,2.06),(-.020,-1.1),(-.005,0.2),(.006,-0.4),(.012,-1.1),(.018,0.1),(.025,0.8),(.030,-0.7),(.040,-0.3),(.055,0.7),(-.035,0.0),(-.050,-0.5),(-.010,-1.0),(.000,-0.2),(.003,0.4),(.015,-0.3)]
R6_dense = [(-.048,-0.7),(-.042,-1.0),(-.036,-0.4),(-.030,-0.8),(-.024,-0.5),(-.018,-1.1),(-.012,-0.3),(-.006,-0.7),(.001,-0.4),(.007,0.0),(.013,-0.7),(.019,0.2),(.025,-0.3),(.031,0.1),(.037,-0.5),(.043,0.4),(.049,-0.1),(.055,-0.4),(.061,0.3),(.067,0.0),(.073,0.5),(.079,-0.3),(.085,0.2),(.091,0.6),(.097,-0.2),(-.060,-1.0),(-.070,-0.4),(-.080,-1.1),(.004,-1.2),(.022,-1.0)]

facet_names = ["Didukh<br>(mean of extremes)", "Ellenberg<br>(optimum)", "Edaphic<br>(mean of extremes)",
               "Edaphic<br>(optimum)", "Topographic<br>(mean of extremes)", "Topographic<br>(optimum)"]

left_r2 = ["0.085", "0.094", "0.079", "0.076", "0.276", "0.248"]
left_rmse = ["1.94", "2.07", "2.14", "2.2", "0.8", "0.94"]
left_mae = ["1.41", "1.58", "1.73", "1.75", "0.6", "0.75"]
right_r2 = ["0.433", "0.421", "0.487", "0.45", "0.136", "0.118"]
right_rmse = ["1.76", "2", "2.05", "2.11", "0.75", "0.87"]
right_mae = ["1.31", "1.49", "1.66", "1.68", "0.51", "0.64"]

left_fit_x = [0.1714, 0.2407]
left_fit_y0 = [-1.3, -1.43, -1.48, -1.57, -0.84, -1.02]
left_fit_y1 = [1.85, 2.3, 1.85, 2.09, 1.67, 1.69]
right_fit_x = [-0.165, 0.18]
right_fit_y0 = [-3.24, -3.69, -4.23, -4.23, -0.82, -0.875]
right_fit_y1 = [3.02, 3.33, 3.56, 3.68, 0.75, 0.71]
left_band_mid = [0.18, 0.22, 0.22, 0.23, 0.06, 0.07]
left_band_end = [0.7, 1.0, 0.95, 1.06, 0.2, 0.29]
right_band_mid = [0.12, 0.13, 0.13, 0.14, 0.04, 0.045]
right_band_end = [0.43, 0.46, 0.45, 0.5, 0.12, 0.17]
left_xbar = 0.193
right_xbar = 0.0
ses_threshold = 1.65

left_xrange = [0.1685, 0.2426]
right_xrange = [-0.18, 0.192]
left_xticks = [0.17, 0.19, 0.21, 0.23]
right_xticks = [-0.1, 0.0, 0.1]
left_yrange = [[-3.4, 6.45], [-3.7, 7.0], [-4.6, 5.45], [-4.8, 6.2], [-1.95, 4.6], [-1.95, 5.0]]
right_yrange = [[-4.05, 6.48], [-4.4, 7.1], [-5.1, 5.6], [-5.25, 6.2], [-1.95, 4.6], [-1.95, 5.0]]
left_yticks = [[-2, 0, 2, 4, 6], [-2.5, 0, 2.5, 5], [-2.5, 0, 2.5, 5], [-4, -2, 0, 2, 4, 6], [0, 2, 4], [0, 2, 4]]
right_yticks = [[-4, -2, 0, 2, 4, 6], [-2.5, 0, 2.5, 5], [-5, -2.5, 0, 2.5, 5], [-3, 0, 3, 6], [0, 2, 4], [0, 2, 4]]

left_panels = [L1 + L1_dense, L2 + L2_dense, L3 + L3_dense, L4 + L4_dense, L5 + L5_dense, L6 + L6_dense]
right_panels = [R1 + R1_dense, R2 + R2_dense, R3 + R3_dense, R4 + R4_dense, R5 + R5_dense, R6 + R6_dense]

# ---------------- LAYOUT GEOMETRY (pixels) ----------------
col_px = [(27, 268), (302, 544)]
ROW0, PITCH, STRIP_H, PLOT_H = 16, 133, 17, 109
FONT = "Liberation Sans, Arial, sans-serif"
DASHED = "3px,3px"
DOTDASH = "1px,2.5px,4px,2.5px"


def px_x(x):
    return x / W


def px_y(y):
    return 1 - y / H


def fmt_ticks(vals):
    if any(abs(v - round(v)) > 1e-9 for v in vals):
        return ["%.1f" % v for v in vals]
    return ["%d" % v for v in vals]


def minor_vals(vals, lo, hi):
    step = vals[1] - vals[0]
    out = []
    v = vals[0] - step / 2
    while v < hi + step:
        if lo <= v <= hi:
            out.append(round(v, 6))
        v += step / 2
    return out


fig = go.Figure()
annotations = []
shapes = []

for r in range(6):
    strip_top = ROW0 + PITCH * r
    plot_top = strip_top + STRIP_H
    plot_bot = plot_top + PLOT_H
    for c in range(2):
        k = r * 2 + c + 1
        xa = "x" if k == 1 else "x%d" % k
        ya = "y" if k == 1 else "y%d" % k
        if c == 0:
            pts = left_panels[r]; xr = left_xrange; yr = left_yrange[r]; yt = left_yticks[r]
            xt = left_xticks; fx = left_fit_x; fy0 = left_fit_y0[r]; fy1 = left_fit_y1[r]
            bm = left_band_mid[r]; be = left_band_end[r]; xbar = left_xbar
        else:
            pts = right_panels[r]; xr = right_xrange; yr = right_yrange[r]; yt = right_yticks[r]
            xt = right_xticks; fx = right_fit_x; fy0 = right_fit_y0[r]; fy1 = right_fit_y1[r]
            bm = right_band_mid[r]; be = right_band_end[r]; xbar = right_xbar

        xs = [p[0] for p in pts]
        ys = [p[1] for p in pts]
        fig.add_trace(go.Scatter(x=xs, y=ys, mode="markers", xaxis=xa, yaxis=ya,
                                 marker=dict(size=4.0, color="rgba(0,0,255,0.62)", line=dict(width=0)),
                                 hoverinfo="skip", showlegend=False))
        for yv, dash in [(0, DASHED), (ses_threshold, DOTDASH), (-ses_threshold, DOTDASH)]:
            fig.add_trace(go.Scatter(x=xr, y=[yv, yv], mode="lines", xaxis=xa, yaxis=ya,
                                     line=dict(color="black", width=0.9, dash=dash),
                                     hoverinfo="skip", showlegend=False))
        if c == 1:
            fig.add_trace(go.Scatter(x=[0, 0], y=yr, mode="lines", xaxis=xa, yaxis=ya,
                                     line=dict(color="black", width=0.9, dash=DOTDASH),
                                     hoverinfo="skip", showlegend=False))
        grid = np.linspace(fx[0], fx[1], 80)
        slope = (fy1 - fy0) / (fx[1] - fx[0])
        fit = fy0 + slope * (grid - fx[0])
        kk = (be ** 2 - bm ** 2) / (fx[1] - xbar) ** 2
        half = np.sqrt(bm ** 2 + kk * (grid - xbar) ** 2)
        fig.add_trace(go.Scatter(x=np.concatenate([grid, grid[::-1]]),
                                 y=np.concatenate([fit + half, (fit - half)[::-1]]),
                                 mode="lines", fill="toself", fillcolor="rgba(255,182,193,0.55)",
                                 line=dict(width=0), xaxis=xa, yaxis=ya,
                                 hoverinfo="skip", showlegend=False))
        fig.add_trace(go.Scatter(x=grid, y=fit, mode="lines", xaxis=xa, yaxis=ya,
                                 line=dict(color="red", width=1.8),
                                 hoverinfo="skip", showlegend=False))

        x0p, x1p = col_px[c]
        xdom = [px_x(x0p), px_x(x1p)]
        ydom = [px_y(plot_bot), px_y(plot_top)]
        bottom = (r == 5)
        xax = dict(domain=xdom, range=xr, anchor=ya, tickmode="array", tickvals=xt,
                   ticktext=fmt_ticks(xt) if c == 1 else ["%.2f" % v for v in xt],
                   showticklabels=bottom, ticks="outside" if bottom else "", ticklen=3,
                   tickwidth=0.6, tickcolor="#333333",
                   tickfont=dict(size=5.4, color="#4D4D4D", family=FONT),
                   showgrid=True, gridcolor="#EBEBEB", gridwidth=0.8,
                   minor=dict(tickmode="array", tickvals=minor_vals(xt, xr[0], xr[1]),
                              showgrid=True, gridcolor="#F2F2F2", gridwidth=0.5, ticks=""),
                   showline=True, mirror=True, linecolor="#333333", linewidth=0.8,
                   zeroline=False, fixedrange=True)
        yax = dict(domain=ydom, range=yr, anchor=xa, tickmode="array", tickvals=yt,
                   ticktext=fmt_ticks(yt), ticks="outside", ticklen=3, tickwidth=0.6,
                   tickcolor="#333333", tickfont=dict(size=5.4, color="#4D4D4D", family=FONT),
                   showgrid=True, gridcolor="#EBEBEB", gridwidth=0.8,
                   minor=dict(tickmode="array", tickvals=minor_vals(yt, yr[0], yr[1]),
                              showgrid=True, gridcolor="#F2F2F2", gridwidth=0.5, ticks=""),
                   showline=True, mirror=True, linecolor="#333333", linewidth=0.8,
                   zeroline=False, fixedrange=True)
        fig.layout["xaxis" if k == 1 else "xaxis%d" % k] = xax
        fig.layout["yaxis" if k == 1 else "yaxis%d" % k] = yax

        # strip
        shapes.append(dict(type="rect", xref="paper", yref="paper",
                           x0=px_x(x0p), x1=px_x(x1p), y0=px_y(plot_top), y1=px_y(strip_top),
                           fillcolor="#D9D9D9", line=dict(color="#333333", width=0.8)))
        annotations.append(dict(xref="paper", yref="paper", x=px_x((x0p + x1p) / 2),
                                y=px_y(strip_top + STRIP_H / 2), text=facet_names[r],
                                showarrow=False, xanchor="center", yanchor="middle",
                                font=dict(size=5.8, color="#1A1A1A", family=FONT)))
        # stats text
        if c == 0:
            lines = ["R² = " + left_r2[r], "RMSE = " + left_rmse[r], "MAE = " + left_mae[r]]
            fr = [0.73, 0.81, 0.885]
            for t, f in zip(lines, fr):
                annotations.append(dict(xref="paper", yref="paper", x=px_x(240),
                                        y=px_y(plot_top + f * PLOT_H), text=t, showarrow=False,
                                        xanchor="center", yanchor="middle",
                                        font=dict(size=6.5, color="black", family=FONT)))
        else:
            lines = ["R² = " + right_r2[r], "RMSE = " + right_rmse[r], "MAE = " + right_mae[r]]
            fr = [0.14, 0.22, 0.295]
            for t, f in zip(lines, fr):
                annotations.append(dict(xref="paper", yref="paper", x=px_x(321),
                                        y=px_y(plot_top + f * PLOT_H), text=t, showarrow=False,
                                        xanchor="left", yanchor="middle",
                                        font=dict(size=6.5, color="black", family=FONT)))

# titles
annotations.append(dict(xref="paper", yref="paper", x=px_x(27), y=px_y(8),
                        text="SES relative to TWI-predicted moisture", showarrow=False,
                        xanchor="left", yanchor="middle", font=dict(size=8.6, color="black", family=FONT)))
annotations.append(dict(xref="paper", yref="paper", x=px_x(302), y=px_y(8),
                        text="SES relative to residual moisture", showarrow=False,
                        xanchor="left", yanchor="middle", font=dict(size=8.6, color="black", family=FONT)))
for xp in [7, 282]:
    annotations.append(dict(xref="paper", yref="paper", x=px_x(xp), y=px_y(412),
                            text="Standardized effect size (SES)", showarrow=False, textangle=-90,
                            xanchor="center", yanchor="middle",
                            font=dict(size=7.1, color="black", family=FONT)))
annotations.append(dict(xref="paper", yref="paper", x=px_x(147.5), y=px_y(821),
                        text="TWI-predicted moisture", showarrow=False, xanchor="center",
                        yanchor="middle", font=dict(size=7.1, color="black", family=FONT)))
annotations.append(dict(xref="paper", yref="paper", x=px_x(423), y=px_y(821),
                        text="Residual moisture", showarrow=False, xanchor="center",
                        yanchor="middle", font=dict(size=7.1, color="black", family=FONT)))

fig.update_layout(width=W, height=H, autosize=False, margin=dict(l=0, r=0, t=0, b=0),
                  paper_bgcolor="white", plot_bgcolor="white", showlegend=False,
                  annotations=annotations, shapes=shapes, font=dict(family=FONT),
                  hovermode=False)

fig.write_html("out.html", config={"displayModeBar": False},
               post_script="document.body.style.margin='0px';document.body.style.padding='0px';")
